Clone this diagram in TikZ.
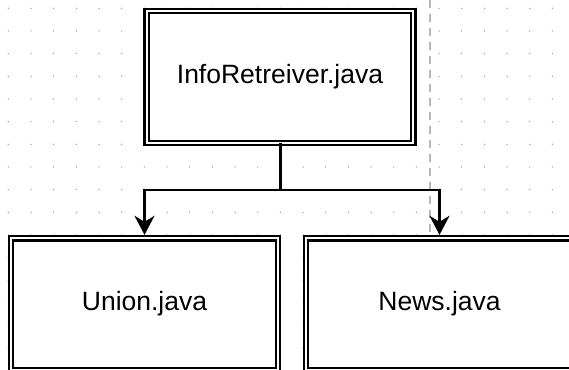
\documentclass[tikz,border=0pt]{standalone}
\usepackage{fontspec}
\setmainfont{Liberation Sans}
\usetikzlibrary{arrows.meta}
\tikzset{
  filebox/.style={draw=black, fill=white, line width=2.2pt, double=white, double distance=2pt,
    minimum width=266.8pt, minimum height=131.4pt, inner sep=0pt, outer sep=0pt,
    font=\fontsize{26.5}{30}\selectfont},
  conn/.style={draw=black, line width=2.2pt, -{Stealth[length=19pt,width=20pt,inset=6pt]}, shorten >=3.5pt},
  griddot/.style={fill=black!38},
  pageline/.style={draw=black!28, line width=1.8pt, dash pattern=on 8pt off 6pt}
}
\begin{document}
\begin{tikzpicture}[x=1pt,y=-1pt]
\useasboundingbox (0,0) rectangle (569,369);
\clip (0,0) rectangle (569,369);
% background grid of dots
\foreach \i in {0,...,25}{
  \foreach \j in {0,...,16}{
    \fill[griddot] (8.3+22.67*\i, 8.3+22.67*\j) circle (0.75);
  }
}
% page boundary
\coordinate (pgtop) at (430,0);
\coordinate (pgbot) at (430,236);
\draw[pageline] (pgtop) -- (pgbot);
% boxes
\node[filebox] (info) at (280,77) {InfoRetreiver.java};
\node[filebox] (union) at (144.5,304) {Union.java};
\node[filebox] (news) at (439.5,304) {News.java};
% connectors
\coordinate (split) at (280.5,190.3);
\draw[conn] (info.south -| split) -- (split) -| (union.north);
\draw[conn] (split) -| (news.north);
\end{tikzpicture}
\end{document}
